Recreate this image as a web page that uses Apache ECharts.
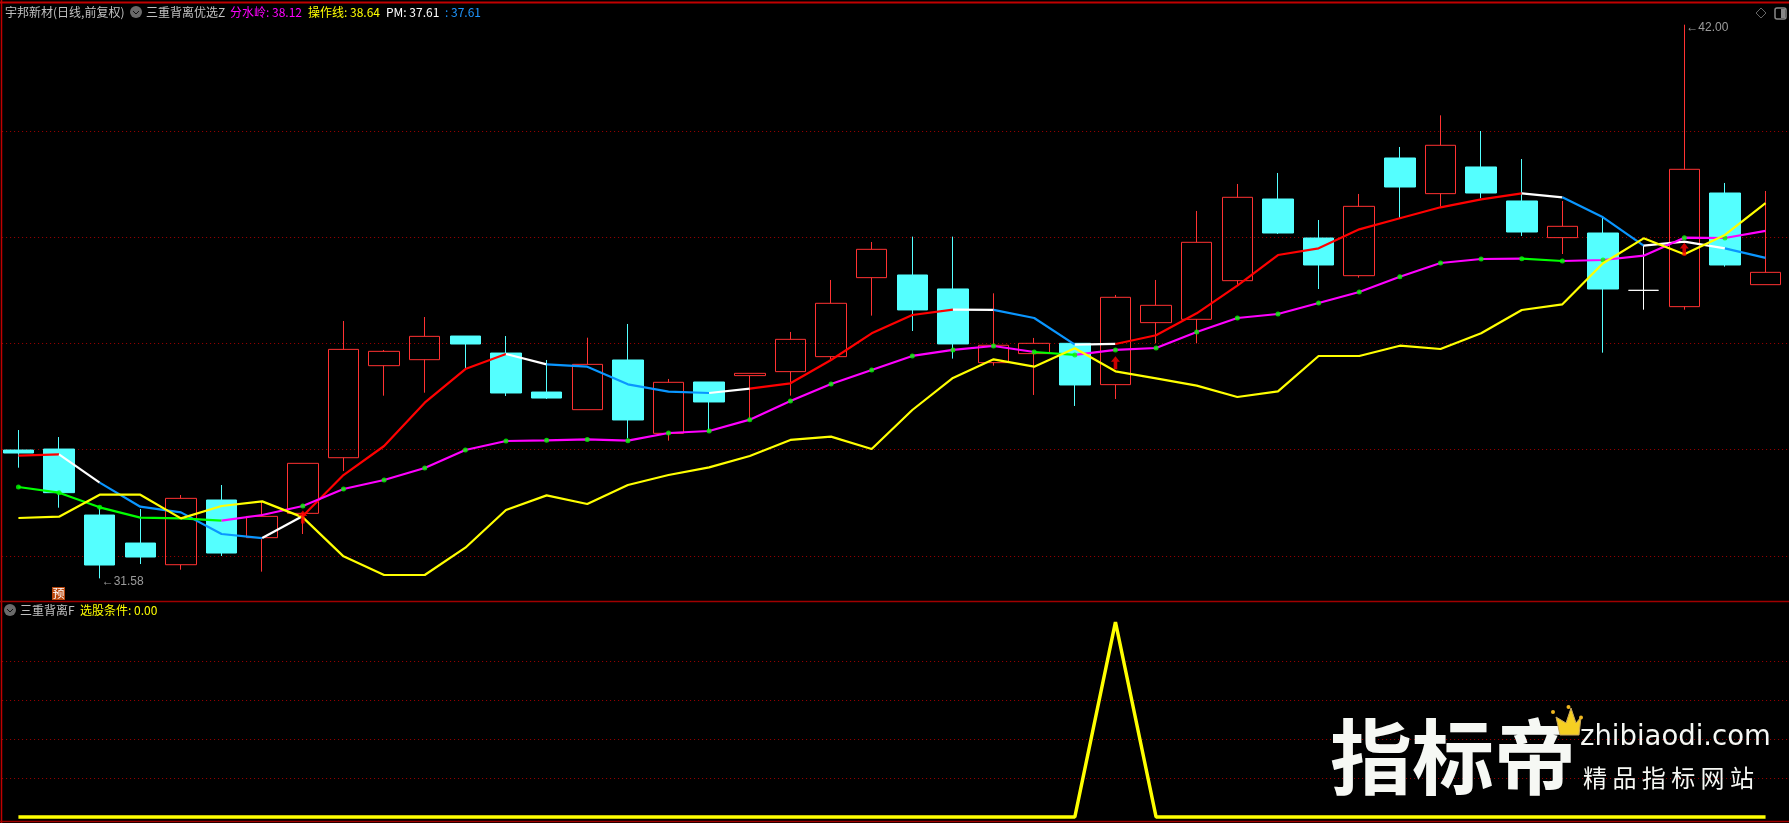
<!DOCTYPE html>
<html><head><meta charset="utf-8">
<style>html,body{margin:0;padding:0;background:#000}#c{width:1789px;height:823px}</style>
<script src="https://cdn.jsdelivr.net/npm/echarts@6/dist/echarts.min.js"></script>
</head><body><div id="c"></div>
<script>
const days=Array.from({length:45},(_,i)=>'D'+(i+1));
const opens=[33.995,34.013,32.771,32.244,31.836,33.054,32.345,32.803,33.850,35.582,35.695,36.140,35.820,35.086,34.754,35.689,34.309,35.275,35.395,35.470,35.752,37.239,37.289,37.026,35.639,35.809,36.003,35.225,36.392,36.455,37.182,38.719,37.985,37.276,39.491,38.820,39.322,38.682,37.992,38.079,37.000,36.693,38.832,37.107];
const closes=[33.938,33.192,31.830,31.981,33.085,32.056,32.746,33.744,35.889,35.852,36.134,35.990,35.068,34.973,35.607,34.560,35.269,34.899,35.438,36.078,36.756,37.772,36.631,35.991,35.966,36.003,35.219,36.869,36.718,37.904,38.751,38.079,37.477,38.581,38.945,39.730,38.832,38.098,38.205,37.025,37.000,39.278,37.477,37.339];
const lows=[33.662,32.909,31.579,31.849,31.742,32.000,31.705,32.414,33.599,35.017,35.074,35.532,35.011,34.955,34.754,34.215,34.171,34.359,34.592,35.018,35.702,36.524,36.235,35.715,35.583,35.031,34.824,34.955,36.003,36.003,37.101,38.061,37.025,37.239,38.355,38.575,38.732,38.023,37.684,35.827,36.636,36.636,37.446,37.107];
const highs=[34.371,34.239,32.941,32.884,33.148,33.336,33.035,33.744,36.423,35.877,36.498,36.140,36.140,35.689,36.109,36.367,35.332,35.275,35.438,36.217,37.195,37.910,38.011,38.011,36.944,36.104,36.003,36.913,37.195,38.494,39.002,39.209,38.324,38.814,39.698,40.294,39.999,39.472,38.682,38.387,37.854,42.000,39.021,38.870];
const pm=[33.888,33.913,33.380,32.928,32.821,32.414,32.338,32.752,33.524,34.070,34.886,35.519,35.802,35.607,35.563,35.231,35.093,35.068,35.150,35.250,35.689,36.191,36.536,36.637,36.631,36.480,35.978,35.991,36.154,36.568,37.088,37.665,37.791,38.148,38.356,38.563,38.713,38.826,38.751,38.374,37.841,37.916,37.791,37.610];
const fenshuiling=[33.298,33.192,32.916,32.721,32.709,32.665,32.771,32.941,33.261,33.430,33.656,33.995,34.164,34.177,34.195,34.171,34.315,34.353,34.566,34.918,35.238,35.501,35.765,35.878,35.953,35.840,35.784,35.878,35.915,36.217,36.480,36.555,36.762,36.969,37.257,37.515,37.590,37.596,37.552,37.571,37.653,37.992,37.985,38.120];
const caozuoxian=[32.715,32.740,33.154,33.154,32.709,32.941,33.028,32.727,31.993,31.642,31.642,32.156,32.865,33.141,32.978,33.337,33.525,33.669,33.883,34.184,34.246,34.014,34.748,35.351,35.702,35.564,35.909,35.476,35.344,35.206,34.993,35.098,35.764,35.764,35.958,35.896,36.191,36.630,36.737,37.509,37.979,37.678,38.042,38.640];
const xuangu=[0,0,0,0,0,0,0,0,0,0,0,0,0,0,0,0,0,0,0,0,0,0,0,0,0,0,0,1,0,0,0,0,0,0,0,0,0,0,0,0,0,0,0,0];
const pmRuns=[[0,1,'#ff0000'],[1,2,'#ffffff'],[2,6,'#0a96ff'],[6,7,'#ffffff'],[7,12,'#ff0000'],[12,13,'#ffffff'],[13,17,'#0a96ff'],[17,18,'#ffffff'],[18,23,'#ff0000'],[23,24,'#ffffff'],[24,26,'#0a96ff'],[26,27,'#ffffff'],[27,37,'#ff0000'],[37,38,'#ffffff'],[38,40,'#0a96ff'],[40,42,'#ffffff'],[42,43,'#0a96ff']];
const fslRuns=[[0,5,'#00ff00'],[5,25,'#ff00ff'],[25,26,'#00ff00'],[26,37,'#ff00ff'],[37,38,'#00ff00'],[38,43,'#ff00ff']];
const dotDays=[0,1,2,7,8,9,10,11,12,13,14,15,16,17,18,19,20,21,22,23,24,25,26,27,28,29,30,31,32,33,34,35,36,37,38,39,41,42];
const arrows=[[7,32.734],[27,35.638],[41,37.772]];
const extremes=[[2,31.579,'←31.58'],[41,42.0,'←42.00']];
const priceTicks=[32,34,36,38,40];
const signalTicks=[0.2,0.4,0.6,0.8];
const stockName='宇邦新材(日线,前复权)';
const grid={color:'#a00000',width:1,type:[1,3]};
const runSeries=(vals,runs,name)=>runs.map((r,k)=>({type:'line',name:name+(k+1),xAxisIndex:0,yAxisIndex:0,z:4,showSymbol:false,symbol:'none',silent:true,
  lineStyle:{color:r[2],width:2.2},data:vals.map((v,i)=>i>=r[0]&&i<=r[1]?v:null)}));
const yAxisBase=(ticks)=>({type:'value',scale:false,axisLine:{show:false},axisLabel:{show:false},
  axisTick:{show:false,customValues:ticks},splitLine:{show:true,lineStyle:grid}});
const cjk='"Noto Sans CJK SC"';
const txt=(x,y,text,fill,size,extra)=>({type:'text',x,y,silent:true,z:20,style:Object.assign({text,fill,font:size+'px '+cjk,textVerticalAlign:'middle'},extra||{})});
const seg=(x1,y1,x2,y2,color,w)=>({type:'line',silent:true,z:19,shape:{x1,y1,x2,y2},style:{stroke:color,lineWidth:w||1}});
const chevIcon=(cx,cy)=>[{type:'circle',silent:true,z:20,shape:{cx,cy,r:6},style:{fill:'#6a6a6a'}},
  {type:'polyline',silent:true,z:21,shape:{points:[[cx-3,cy-1],[cx,cy+2],[cx+3,cy-1]]},style:{stroke:'#111',fill:null,lineWidth:1}}];
const shadow={shadowColor:'rgba(200,200,200,0.55)',shadowBlur:6};
const graphic=[
  {type:'rect',silent:true,z:18,shape:{x:0,y:0,width:1,height:823},style:{fill:'#000'}},
  seg(0,2.5,1789,2.5,'#c00000',2),seg(1.5,0,1.5,823,'#c00000',1.5),
  seg(0,601.5,1789,601.5,'#a00000',1.5),seg(0,821.5,1789,821.5,'#a00000',1.5),
  txt(5,12,stockName,'#c0c0c0',12),...chevIcon(136,12),
  txt(146,12,'三重背离优选Z','#c0c0c0',12),
  txt(230,12,'分水岭: 38.12','#ff00ff',12),
  txt(308,12,'操作线: 38.64','#ffff00',12),
  txt(386,12,'PM: 37.61','#ffffff',12),
  txt(445,12,': 37.61','#1e96ff',12),
  {type:'polygon',silent:true,z:20,shape:{points:[[1761,8],[1766,13],[1761,18],[1756,13]]},style:{fill:null,stroke:'#666',lineWidth:1}},
  {type:'rect',silent:true,z:20,shape:{x:1775,y:8,width:11,height:11,r:2},style:{fill:null,stroke:'#888',lineWidth:1.5}},
  {type:'rect',silent:true,z:20,shape:{x:1781,y:9,width:4,height:9},style:{fill:'#888'}},
  {type:'rect',silent:true,z:20,shape:{x:52,y:587,width:13,height:13},style:{fill:'#b8460c'}},
  txt(52.5,593.5,'预','#ffffff',12),
  ...chevIcon(10,610),
  txt(20,610,'三重背离F','#c0c0c0',12),
  txt(80,610,'选股条件: 0.00','#ffff00',12),
  {type:'text',x:1330,y:757,silent:true,z:20,style:Object.assign({text:'指标帝',fill:'#f6f8f4',font:'bold 82px '+cjk,textVerticalAlign:'middle'},shadow)},
  {type:'text',x:1580,y:738,silent:true,z:20,style:Object.assign({text:'zhibiaodi.com',fill:'#f6f8f4',font:'27.5px "DejaVu Sans"',textVerticalAlign:'middle'},shadow)},
  {type:'text',x:1583,y:778,silent:true,z:20,style:Object.assign({text:'精 品 指 标 网 站',fill:'#f6f8f4',font:'24px '+cjk,textVerticalAlign:'middle'},shadow)},
  {type:'polygon',silent:true,z:21,shape:{points:[[1556,717],[1566,723],[1571,708],[1576,723],[1581,717],[1579,735],[1560,735]]},style:{fill:'#f5cf22',stroke:'#c9a65a',lineWidth:1}},
  {type:'circle',silent:true,z:21,shape:{cx:1553,cy:712,r:2},style:{fill:'#f0b820'}},
  {type:'circle',silent:true,z:21,shape:{cx:1568.5,cy:707,r:2},style:{fill:'#f0b820'}},
  {type:'circle',silent:true,z:21,shape:{cx:1581,cy:717.5,r:2},style:{fill:'#f0b820'}}
];
const option={backgroundColor:'#000',animation:false,tooltip:{show:false},legend:{show:false},
 grid:[{left:-1.9,top:2,width:1828.4,height:599,outerBoundsMode:'none'},{left:-1.9,top:602,width:1828.4,height:219,outerBoundsMode:'none'}],
 xAxis:[{type:'category',gridIndex:0,data:days,show:false},{type:'category',gridIndex:1,data:days,show:false}],
 yAxis:[Object.assign(yAxisBase(priceTicks),{gridIndex:0,min:31.153,max:42.427}),Object.assign(yAxisBase(signalTicks),{gridIndex:1,min:-0.0205,max:1.1026})],
 series:[
  {type:'candlestick',name:'K线',xAxisIndex:0,yAxisIndex:0,z:2,barWidth:31,silent:true,
   data:opens.map((o,i)=>[o,closes[i],lows[i],highs[i]]),
   itemStyle:{color:'rgba(0,0,0,0)',color0:'#54ffff',borderColor:'#ff3232',borderColor0:'#54ffff',borderColorDoji:'#ffffff',borderWidth:1}},
  ...runSeries(pm,pmRuns,'PM'),
  ...runSeries(fenshuiling,fslRuns,'分水岭'),
  {type:'scatter',name:'点',xAxisIndex:0,yAxisIndex:0,z:5,symbolSize:5,silent:true,itemStyle:{color:'#00ff00'},data:dotDays.map(i=>[i,fenshuiling[i]])},
  {type:'line',name:'操作线',xAxisIndex:0,yAxisIndex:0,z:6,symbol:'none',silent:true,lineStyle:{color:'#ffff00',width:2.2},data:caozuoxian},
  {type:'scatter',name:'箭头',xAxisIndex:0,yAxisIndex:0,z:7,silent:true,symbol:'path://M5 0 L10 6 L7 6 L7 14 L3 14 L3 6 L0 6 Z',symbolSize:[9,13],itemStyle:{color:'#ff0000'},data:arrows},
  {type:'scatter',name:'极值',xAxisIndex:0,yAxisIndex:0,z:8,silent:true,symbolSize:0,data:extremes.map(e=>({value:[e[0],e[1]],label:{formatter:e[2]}})),
   label:{show:true,position:'right',distance:0,offset:[2,3],color:'#c0c0c0',fontSize:12,fontFamily:'Liberation Sans'}},
  {type:'line',name:'选股条件',xAxisIndex:1,yAxisIndex:1,z:4,symbol:'none',silent:true,lineStyle:{color:'#ffff00',width:3.5},data:xuangu}
 ],
 graphic:graphic};
const chart=echarts.init(document.getElementById('c'),null,{renderer:'canvas'});
chart.setOption(option);
</script></body></html>
